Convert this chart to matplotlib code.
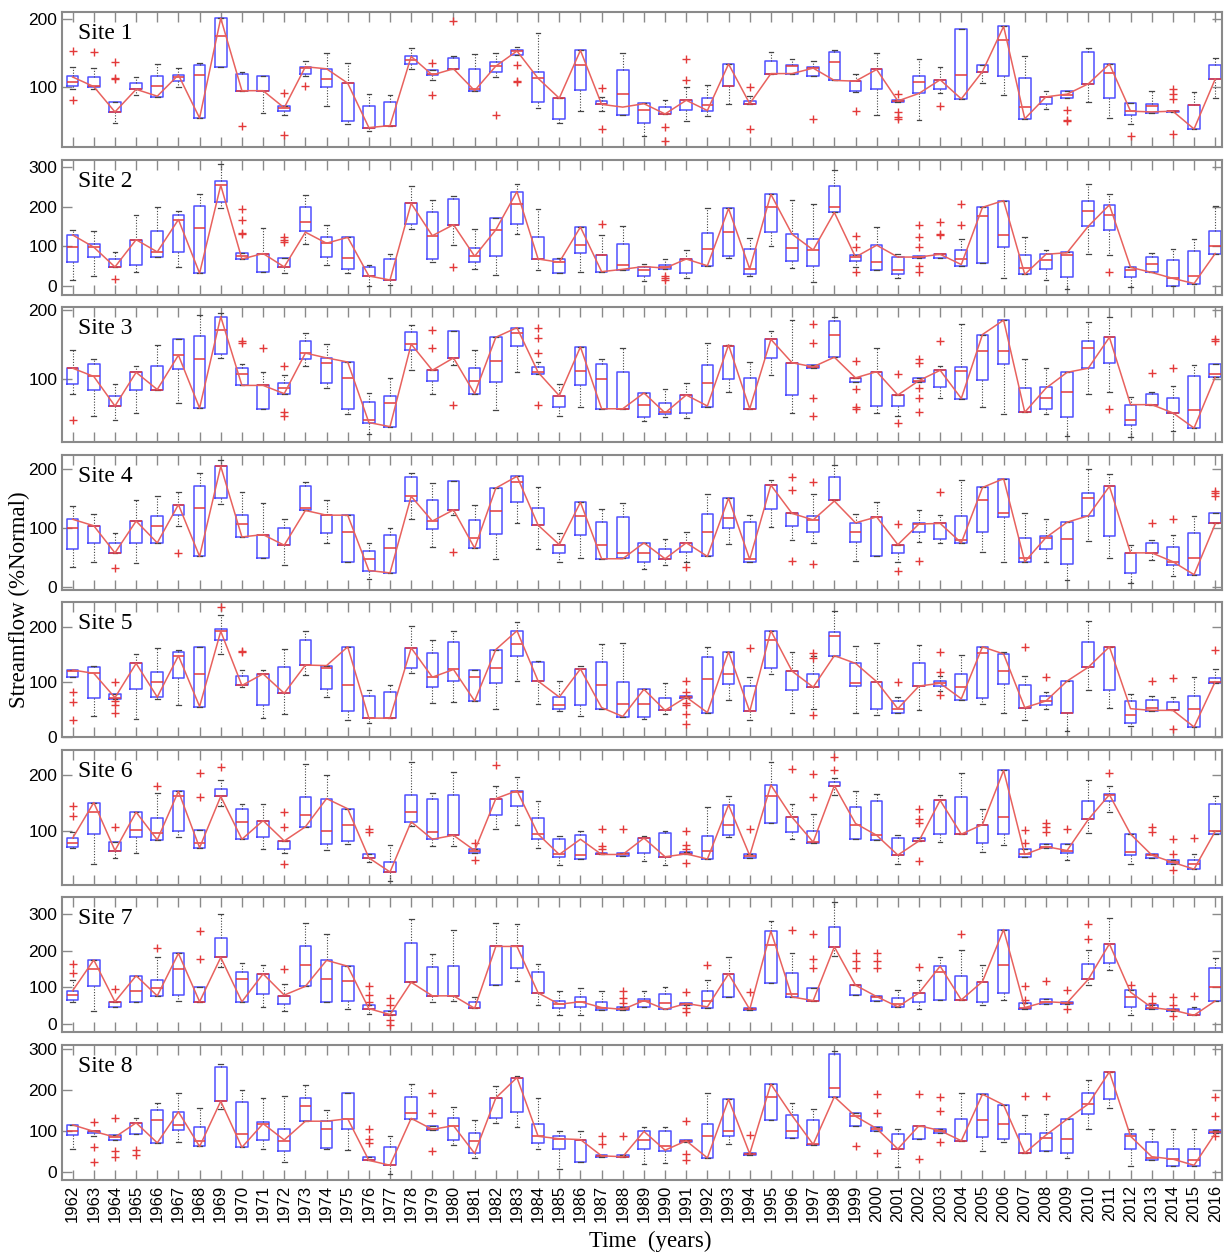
import matplotlib
matplotlib.use('Agg')
import matplotlib.pyplot as plt

YEARS = list(range(1962, 2017))
SITE_NAMES = ['Site 1', 'Site 2', 'Site 3', 'Site 4', 'Site 5', 'Site 6', 'Site 7', 'Site 8']

# ---------------- Site 1 ----------------
S1_Q1 = [102,101,64,97,86,109,55,129,95,95, 65,120,100,51,41,44,134,118,126,95, 123,147,79,54,96,75,59,48,61,67,
         65,102,75,120,120,116,110,95,98,79, 91,98,83,122,117,54,75,84,105,84, 59,62,64,39,112]
S1_Q3 = [116,115,79,106,117,118,132,201,120,117, 72,130,127,106,72,78,145,125,143,126, 137,154,123,84,154,80,125,77,71,81,
         85,134,80,139,132,129,152,109,126,82, 117,111,185,133,189,114,86,94,152,134, 77,75,66,74,133]
S1_MED = [108,102,64,97,102,115,118,175,95,95, 70,128,112,106,41,44,140,120,127,98, 131,153,113,84,132,75,90,67,61,81,
          74,102,76,120,131,128,137,109,126,80, 107,111,118,123,169,71,86,89,105,121, 65,72,65,74,112]
S1_LO = [98,97,48,89,86,101,55,129,95,63, 59,116,72,46,36,44,127,111,126,95, 115,147,70,48,65,66,59,29,61,51,
         58,76,75,120,120,116,110,93,60,79, 52,91,83,106,88,54,68,84,79,55, 47,62,64,39,85]
S1_HI = [129,128,79,115,134,128,136,201,122,117, 72,138,150,136,90,88,157,125,145,149, 150,159,180,84,154,86,150,77,82,100,
         103,134,87,151,142,139,155,119,150,82, 142,129,185,133,189,145,95,94,158,134, 77,95,66,93,143]
S1_OBS = [115,101,64,97,87,118,55,201,95,95, 70,130,127,106,41,44,145,118,127,95, 131,153,113,84,154,75,71,76,61,81,
          66,134,76,120,120,128,110,109,126,80, 91,111,83,123,189,54,86,90,105,134, 65,64,65,39,112]
S1_OUT = {1962: [153, 81], 1963: [151], 1964: [137, 114, 112], 1970: [43], 1972: [91, 30], 1973: [102],
          1979: [135, 88], 1980: [197], 1982: [60], 1983: [132, 109, 107], 1987: [99, 39], 1990: [42, 22],
          1991: [141, 111], 1994: [100, 39], 1997: [54], 1999: [66], 2001: [90, 64, 57, 54], 2003: [72],
          2009: [67, 52, 50], 2012: [29], 2014: [97, 90, 83, 32]}

# ---------------- Site 2 ----------------
S2_Q1 = [60,73,48,54,73,86,32,212,67,36, 48,140,73,43,25,15,156,68,155,60, 75,157,68,32,84,36,39,25,42,32,
         51,75,30,137,62,51,186,64,41,30, 71,71,51,58,99,29,43,23,151,142, 23,34,0,6,82]
S2_Q3 = [129,107,68,117,140,179,203,265,84,82, 71,199,123,123,49,69,209,188,220,97, 173,239,123,68,149,77,105,49,54,68,
         133,196,94,232,131,120,252,77,103,73, 75,82,91,199,216,77,80,86,216,205, 47,73,65,88,138]
S2_MED = [98,98,48,117,86,168,147,255,75,82, 48,162,108,71,25,15,209,127,155,75, 142,207,68,60,104,77,54,40,48,68,
          94,136,43,200,95,91,200,73,60,40, 73,80,68,177,130,45,65,77,189,180, 40,55,19,25,101]
S2_LO = [16,26,48,35,73,49,32,198,67,36, 32,107,54,32,0,3,143,60,104,43, 28,131,39,32,36,36,39,13,42,19,
         51,71,25,101,45,9,186,48,41,19, 71,71,51,58,19,29,16,-7,82,77, -3,34,0,6,82]
S2_HI = [142,138,86,179,200,190,233,309,84,147, 71,231,155,123,54,80,252,218,228,144, 173,259,194,71,149,129,151,55,67,90,
         196,196,121,232,218,207,294,77,149,82, 75,82,120,199,216,124,92,86,259,232, 47,84,94,118,202]
S2_OBS = [129,98,48,117,86,168,32,255,68,82, 48,136,108,123,25,15,209,127,155,75, 142,239,68,60,149,36,42,49,45,68,
          51,196,43,232,131,91,186,73,103,73, 73,80,54,199,216,29,80,84,151,205, 47,34,19,6,82]
S2_OUT = {1964: [17], 1970: [194, 166, 134, 131], 1972: [124, 117, 110], 1980: [48], 1987: [157],
          1990: [25, 19, 15], 1999: [127, 99, 36], 2002: [155, 124, 99, 51, 36], 2003: [162, 131, 129],
          2004: [207, 155], 2011: [35]}

# ---------------- Site 3 ----------------
S3_Q1 = [93,85,61,84,84,115,58,137,91,57, 79,129,95,57,37,31,142,97,131,79, 96,149,108,60,92,57,57,45,50,51,
         60,101,57,131,77,117,132,96,61,61, 96,88,71,99,122,52,57,45,116,124, 34,63,51,29,103]
S3_Q3 = [116,122,76,110,119,159,163,191,116,91, 95,156,131,125,67,76,169,113,170,116, 161,175,118,76,147,122,111,80,65,77,
         121,148,102,158,124,120,184,102,111,77, 102,113,118,165,186,87,88,110,156,161, 63,78,72,105,122]
S3_MED = [116,104,61,110,85,135,130,172,107,91, 87,138,124,102,41,65,151,113,131,97, 127,167,110,76,112,101,57,62,52,77,
          95,148,57,158,124,118,165,102,111,77, 98,113,112,141,141,52,72,81,146,161, 41,63,51,55,108]
S3_LO = [78,46,41,51,84,65,58,131,91,57, 79,119,87,49,20,31,113,79,121,79, 55,110,108,47,59,57,57,39,45,44,
         60,82,57,106,51,117,132,96,51,47, 96,73,71,60,50,52,50,18,78,82, 16,63,25,29,103]
S3_HI = [143,129,93,119,150,159,194,196,122,111, 106,167,151,125,80,102,179,113,170,143, 161,175,125,93,147,129,146,80,86,95,
         153,150,125,170,186,120,191,102,146,77, 102,119,181,165,186,129,116,110,183,191, 74,81,90,121,122]
S3_OBS = [116,104,61,110,85,135,58,191,91,91, 79,138,131,125,37,31,151,113,131,79, 161,175,110,76,147,57,57,80,51,77,
          61,150,57,158,124,118,132,102,111,77, 98,113,72,165,186,52,87,110,116,161, 63,63,51,29,103]
S3_OUT = {1962: [40], 1970: [155, 153], 1971: [146], 1972: [119, 52, 46], 1979: [172, 145], 1980: [63],
          1984: [174, 160, 138, 63], 1997: [181, 152, 72, 46], 1999: [126, 86, 60, 56], 2001: [107, 36],
          2002: [129, 124, 87, 72, 53], 2003: [155], 2011: [56], 2013: [109], 2014: [116], 2016: [158, 155]}

# ---------------- Site 4 ----------------
S4_Q1 = [65,74,58,74,75,122,52,152,85,49, 71,131,91,43,28,24,146,98,131,66, 90,145,105,57,89,48,49,42,48,60,
         52,100,43,132,103,93,147,76,52,57, 93,82,74,93,119,43,65,39,121,86, 24,58,38,21,108]
S4_Q3 = [116,104,74,112,121,140,172,205,122,89, 100,172,122,122,61,89,187,147,180,114, 168,188,134,72,144,111,119,75,64,75,
         124,151,110,173,125,120,186,109,119,71, 108,108,120,169,184,83,86,110,160,171, 57,74,68,91,125]
S4_MED = [100,104,58,112,103,140,134,205,107,89, 71,135,122,93,48,67,154,112,131,84, 129,179,105,72,121,72,57,57,48,75,
          94,117,47,173,125,114,147,93,119,71, 107,108,79,148,125,50,84,82,151,171, 57,58,43,49,108]
S4_LO = [34,42,58,40,75,104,52,141,85,49, 37,131,75,42,13,24,115,68,122,66, 48,109,64,43,50,48,49,30,37,42,
         52,73,43,102,80,75,147,45,52,42, 76,75,74,60,43,43,43,12,78,50, 7,46,18,21,108]
S4_HI = [137,124,91,147,154,162,194,215,162,142, 115,178,147,122,75,101,194,177,180,139, 168,188,170,91,144,132,143,75,82,93,
         158,151,122,181,125,158,208,124,144,71, 131,122,181,169,184,125,115,110,200,192, 71,79,88,121,125]
S4_OBS = [115,104,58,112,75,140,52,205,85,89, 71,130,122,122,28,24,154,112,131,66, 168,188,105,72,144,48,48,75,48,75,
          52,151,47,173,125,114,146,109,119,72, 107,108,75,169,184,43,84,110,121,171, 58,58,43,21,107]
S4_OUT = {1964: [32], 1967: [57], 1980: [60], 1991: [34], 1996: [186, 164, 45], 1997: [179, 39],
          2001: [107, 28], 2002: [45], 2003: [161], 2013: [109], 2014: [115], 2016: [163, 160, 154]}

# ---------------- Site 5 ----------------
S5_Q1 = [109,72,70,87,73,107,56,176,94,58, 80,131,87,47,35,35,125,91,103,66, 98,148,102,51,59,51,37,37,49,72,
         45,96,47,125,85,91,148,93,52,45, 93,93,68,72,96,54,59,45,127,85, 26,47,49,19,98]
S5_Q3 = [122,128,79,134,118,155,164,197,111,115, 128,176,130,164,75,82,162,152,173,122, 159,193,136,73,124,136,101,88,72,75,
         146,155,93,193,120,114,190,134,101,66, 134,102,114,164,151,94,75,102,172,164, 66,68,64,75,108]
S5_MED = [121,116,72,134,101,148,115,192,94,115, 80,131,125,94,35,35,162,109,123,109, 125,169,102,59,124,94,61,61,49,73,
          105,114,47,176,120,91,183,98,101,52, 93,98,91,153,120,54,66,45,127,164, 40,54,49,52,101]
S5_LO = [109,38,70,33,70,59,56,151,92,35, 43,113,73,31,26,35,117,63,65,66, 52,102,61,47,38,51,37,33,43,72,
         45,68,31,114,45,52,148,45,40,45, 49,84,68,61,45,31,52,12,85,54, 20,47,49,19,98]
S5_HI = [122,130,79,151,162,159,164,221,122,122, 160,192,130,164,86,94,202,176,192,122, 159,209,139,102,130,169,171,88,99,75,
         164,155,110,193,155,148,229,165,171,73, 167,111,150,164,155,111,82,102,211,164, 79,75,73,110,123]
S5_OBS = [122,116,72,134,73,148,56,192,94,115, 80,131,130,164,35,35,162,109,123,66, 159,193,102,73,124,54,38,87,49,73,
          45,155,47,193,120,91,148,134,101,52, 93,98,70,164,151,54,66,102,127,164, 52,49,49,19,101]
S5_OUT = {1962: [82, 65, 31], 1964: [100, 66, 59, 44], 1969: [236], 1970: [157, 155],
          1991: [102, 82, 63, 59, 42, 24], 1994: [162], 1997: [152, 143, 40], 2001: [101],
          2003: [155, 118, 77], 2007: [164], 2008: [109], 2013: [102], 2014: [107, 16], 2016: [159]}

# ---------------- Site 6 ----------------
S6_Q1 = [73,95,66,90,85,100,71,162,86,90, 69,108,78,83,53,28,117,86,93,62, 129,145,86,55,51,59,57,61,55,59,
         51,93,53,114,99,79,181,86,85,58, 83,95,95,79,95,55,71,62,121,153, 58,53,43,33,95]
S6_Q3 = [88,151,81,134,123,171,102,175,139,119, 83,160,158,140,60,45,164,158,164,68, 158,172,123,86,93,62,62,88,97,64,
         91,147,60,182,125,101,188,143,153,88, 88,155,160,112,208,68,77,78,153,166, 95,60,49,49,148]
S6_MED = [80,134,66,103,97,162,79,162,116,119, 83,129,100,112,53,28,134,99,93,66, 158,170,95,59,58,59,59,88,55,60,
          66,112,57,162,125,81,181,112,93,58, 83,155,95,112,125,59,73,66,121,165, 64,58,45,42,100]
S6_LO = [71,42,53,62,85,90,71,145,86,69, 62,108,67,78,45,12,110,74,74,62, 105,112,71,40,51,59,57,47,40,59,
         51,90,53,114,86,79,165,86,85,42, 83,82,95,64,76,55,71,49,97,134, 42,53,43,33,95]
S6_HI = [99,151,81,134,168,171,102,191,148,148, 83,220,199,140,60,76,223,168,206,68, 180,196,153,91,101,62,62,91,100,64,
         143,162,60,222,149,131,194,171,167,93, 88,164,203,140,208,68,77,78,191,180, 95,60,49,60,162]
S6_OBS = [88,151,66,134,85,171,71,162,86,119, 83,108,158,140,53,28,117,86,93,66, 158,172,95,59,86,59,59,88,55,60,
          51,147,57,182,125,81,181,114,93,58, 83,155,95,112,208,59,73,66,121,165, 95,58,45,33,100]
S6_OUT = {1962: [145, 127], 1964: [108], 1966: [180], 1968: [203, 160], 1969: [214], 1972: [134, 107, 42],
          1976: [105, 98], 1981: [79, 50], 1982: [218], 1987: [105, 74, 69], 1988: [105],
          1991: [100, 76, 69, 44], 1994: [105], 1996: [210], 1997: [201, 160], 1998: [232, 208],
          2002: [140, 122, 114, 47], 2007: [102, 79], 2008: [114, 107, 99], 2009: [105], 2011: [204],
          2013: [107, 98], 2014: [86, 60, 32], 2015: [88]}

# ---------------- Site 7 ----------------
S7_Q1 = [66,103,47,61,77,80,61,182,61,82, 54,103,61,63,40,26,114,77,77,43, 106,153,85,43,47,37,37,47,40,51,
         45,74,37,111,74,64,211,79,64,47, 61,66,66,61,84,42,54,56,122,168, 47,40,35,24,63]
S7_Q3 = [91,175,61,132,121,193,100,235,142,137, 77,212,174,158,51,35,221,156,159,61, 212,212,142,63,74,59,47,68,82,58,
         89,137,45,254,140,98,264,106,77,72, 85,158,132,116,258,58,68,60,163,219, 93,51,40,40,153]
S7_MED = [80,151,61,89,98,151,61,182,124,137, 77,161,124,117,42,26,114,77,77,43, 212,212,85,54,61,45,40,64,58,56,
          64,137,40,217,82,64,211,106,75,56, 85,142,66,116,161,45,61,58,122,219, 74,45,38,24,100]
S7_LO = [61,35,47,61,77,63,61,156,61,47, 35,103,61,40,27,26,114,59,63,43, 106,117,53,26,26,37,37,47,40,51,
         45,74,37,111,74,64,185,79,64,47, 40,66,66,51,66,42,54,56,106,147, 26,40,35,24,63]
S7_HI = [119,175,61,132,182,193,100,301,168,161, 108,277,247,158,51,35,287,191,256,75, 277,274,163,89,98,89,47,89,101,58,
         119,182,45,282,193,98,333,106,77,93, 119,182,203,161,258,58,68,60,203,289, 93,51,40,47,180]
S7_OBS = [91,175,61,132,77,193,61,182,61,137, 79,103,174,158,42,26,114,77,77,43, 212,212,85,54,61,45,40,64,40,56,
          47,137,40,254,74,64,211,106,75,47, 85,158,66,116,258,45,61,58,122,219, 87,45,38,24,63]
S7_OUT = {1962: [163, 140], 1964: [95], 1966: [208], 1968: [253, 179], 1972: [151], 1976: [103, 79, 61],
          1977: [72, 51, 12, -4], 1988: [89, 72, 58], 1991: [87, 45, 33], 1992: [161], 1994: [87], 1996: [256],
          1997: [247, 177, 153], 1999: [193, 172, 153], 2000: [193, 172, 153], 2002: [156], 2004: [247],
          2007: [105, 66], 2008: [117], 2009: [93, 40], 2010: [272, 233], 2012: [106], 2013: [77, 58],
          2014: [74, 51, 22], 2015: [77]}

# ---------------- Site 8 ----------------
S8_Q1 = [90,94,78,93,71,102,62,173,60,78, 50,124,59,106,28,16,129,102,78,45, 133,147,71,57,25,36,36,56,51,73,
         34,88,41,127,83,65,184,113,99,56, 81,96,76,85,81,46,50,46,141,178, 56,28,13,14,94]
S8_Q3 = [115,101,90,120,152,147,110,258,171,122, 106,181,124,192,37,60,184,113,133,94, 181,231,118,88,79,41,41,99,99,79,
         118,178,45,215,138,127,289,143,110,92, 113,106,129,190,164,92,94,129,194,245, 93,73,55,57,102]
S8_MED = [101,99,85,120,127,115,76,173,92,118, 76,162,106,130,30,16,145,104,113,76, 181,231,87,81,79,39,37,78,62,76,
          87,101,44,184,100,67,206,136,106,56, 113,101,76,127,118,46,82,81,166,245, 87,34,32,28,98]
S8_LO = [56,87,78,93,71,74,62,155,60,55, 25,124,56,53,28,-5,129,102,65,34, 120,110,56,8,25,36,36,20,22,73,
         34,69,41,127,83,65,184,113,99,11, 81,96,76,50,73,46,50,34,106,157, 13,28,13,14,94]
S8_HI = [115,101,90,133,169,194,157,264,201,181, 185,212,152,192,37,87,215,113,159,127, 210,236,182,101,101,41,41,110,110,79,
         194,178,45,215,169,155,295,143,110,104, 113,106,194,190,164,139,141,129,224,245, 106,106,106,106,102]
S8_OBS = [115,99,85,120,71,147,62,173,60,118, 78,124,124,130,28,16,131,104,113,45, 181,231,87,81,79,39,37,99,53,76,
          34,178,44,215,138,67,184,136,106,56, 113,101,76,190,164,46,90,129,166,245, 87,37,31,16,94]
S8_OUT = {1963: [122, 60, 25], 1964: [131, 50, 37], 1965: [53, 41], 1976: [106, 81, 71], 1979: [192, 145, 50],
          1987: [88, 69], 1988: [88], 1991: [124, 44, 28], 1994: [90], 1999: [62], 2000: [190, 144, 46],
          2002: [190, 31], 2003: [184, 148, 74], 2007: [185], 2008: [187], 2016: [184, 136, 88]}

SITES = [
    (S1_Q1, S1_Q3, S1_MED, S1_LO, S1_HI, S1_OBS, S1_OUT),
    (S2_Q1, S2_Q3, S2_MED, S2_LO, S2_HI, S2_OBS, S2_OUT),
    (S3_Q1, S3_Q3, S3_MED, S3_LO, S3_HI, S3_OBS, S3_OUT),
    (S4_Q1, S4_Q3, S4_MED, S4_LO, S4_HI, S4_OBS, S4_OUT),
    (S5_Q1, S5_Q3, S5_MED, S5_LO, S5_HI, S5_OBS, S5_OUT),
    (S6_Q1, S6_Q3, S6_MED, S6_LO, S6_HI, S6_OBS, S6_OUT),
    (S7_Q1, S7_Q3, S7_MED, S7_LO, S7_HI, S7_OBS, S7_OUT),
    (S8_Q1, S8_Q3, S8_MED, S8_LO, S8_HI, S8_OBS, S8_OUT),
]

Y_LIMITS = [(12, 210), (-23, 320), (8, 205), (-5, 225), (0, 245), (5, 245), (-23, 347), (-20, 312)]
Y_TICKS = [[100, 200], [0, 100, 200, 300], [100, 200], [0, 100, 200], [0, 100, 200], [100, 200],
           [0, 100, 200, 300], [0, 100, 200, 300]]

BOX_C = '#4f4fff'
MED_C = '#e33a3a'
LINE_C = '#e8625e'
FRAME_C = '#8a8a8a'
SANS = ['Liberation Sans', 'DejaVu Sans']
SERIF = ['Liberation Serif', 'DejaVu Serif']

fig = plt.figure(figsize=(12.24, 12.53), dpi=100)
gs = fig.add_gridspec(8, 1, left=0.0507, right=0.998, top=0.9904, bottom=0.0583, hspace=0.089)
pos = list(range(1, len(YEARS) + 1))

for k, (q1, q3, med, lo, hi, obs, out) in enumerate(SITES):
    ax = fig.add_subplot(gs[k])
    stats = []
    for i, yr in enumerate(YEARS):
        stats.append(dict(med=med[i], q1=q1[i], q3=q3[i], whislo=lo[i], whishi=hi[i],
                          fliers=out.get(yr, [])))
    ax.bxp(stats, positions=pos, widths=0.55, capwidths=0.22, showfliers=True, manage_ticks=False,
           boxprops=dict(color=BOX_C, lw=1.1),
           medianprops=dict(color=MED_C, lw=1.1),
           whiskerprops=dict(color='#444444', lw=0.8, ls=(0, (1, 1.5))),
           capprops=dict(color='#444444', lw=0.9),
           flierprops=dict(marker='+', markeredgecolor=MED_C, markersize=6, mew=1.0, linestyle='none'))
    ax.plot(pos, obs, color=LINE_C, lw=1.1, zorder=5)

    ax.set_xlim(0.5, 55.3)
    ax.set_ylim(*Y_LIMITS[k])
    ax.set_yticks(Y_TICKS[k])
    ax.set_xticks(pos)
    ax.tick_params(axis='x', direction='in', length=7, width=1.0, color=FRAME_C,
                   top=True, bottom=True, labelbottom=(k == 7))
    ax.tick_params(axis='y', direction='in', length=7, width=1.0, color=FRAME_C,
                   left=True, right=True, labelsize=12.5)
    for lab in ax.get_yticklabels():
        lab.set_family(SANS)
    if k == 7:
        ax.set_xticklabels([str(y) for y in YEARS], rotation=90, fontsize=12, family=SANS)
    for sp in ax.spines.values():
        sp.set_color(FRAME_C)
        sp.set_linewidth(1.5)
    ax.text(0.014, 0.84, SITE_NAMES[k], transform=ax.transAxes, fontsize=17, family=SERIF,
            va='center', ha='left', zorder=6)

fig.text(0.016, 0.521, 'Streamflow (%Normal)', rotation=90, fontsize=16.5, family=SERIF,
         va='center', ha='center')
fig.text(0.531, 0.009, 'Time  (years)', fontsize=16.5, family=SERIF, va='center', ha='center')

fig.savefig('out.png', dpi=100)
